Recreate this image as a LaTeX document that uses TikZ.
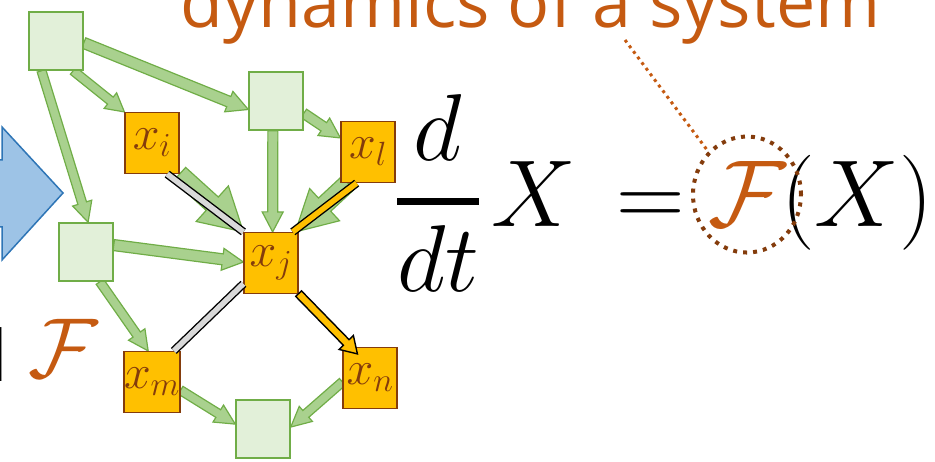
\RequirePackage{fix-cm}
\documentclass[tikz,border=0pt]{standalone}
\usepackage{amsmath}
\usepackage{fontspec}
\newfontfamily\sansfont{Open Sans}
\usetikzlibrary{calc,shapes.geometric}
\definecolor{boxGreen}{HTML}{E2F0D9}
\definecolor{lineGreen}{HTML}{70AD47}
\definecolor{arrowGreen}{HTML}{A9D18E}
\definecolor{boxOrange}{HTML}{FFC000}
\definecolor{darkBrown}{HTML}{843C0C}
\definecolor{rust}{HTML}{C55A11}
\definecolor{blueFill}{HTML}{9DC3E6}
\definecolor{blueLine}{HTML}{2E75B6}
\definecolor{barGrey}{HTML}{D9D9D9}
\pgfdeclarelayer{background}
\pgfsetlayers{background,main}
% block arrow: [style]{from}{to}{shaft half width}{head half width}{head length}
\newcommand{\blockArrow}[6][greenArrow]{%
    \coordinate (ba) at ($(#3)!#6!(#2)$);
    \filldraw[#1] ($(#2)!#4!90:(#3)$) -- ($(ba)!#4!90:(#3)$) -- ($(ba)!#5!90:(#3)$) -- (#3)
        -- ($(ba)!#5!-90:(#3)$) -- ($(ba)!#4!-90:(#3)$) -- ($(#2)!#4!-90:(#3)$) -- cycle;}

\begin{document}
\begin{tikzpicture}[x=1pt, y=-1pt,
        greenBox/.style={draw=lineGreen, fill=boxGreen, line width=1.5pt, minimum width=54pt, minimum height=58pt, inner sep=0pt},
        orangeBox/.style={draw=darkBrown, fill=boxOrange, line width=1.2pt, minimum width=54pt, minimum height=61pt, inner sep=0pt, text=darkBrown, font=\fontsize{48}{48}\selectfont},
        greenArrow/.style={draw=lineGreen, fill=arrowGreen, line width=1.2pt, line join=miter},
        orangeArrow/.style={draw=black, fill=boxOrange, line width=1.4pt, line join=miter},
        greyBar/.style={draw=black, line width=1.4pt, double=barGrey, double distance=5.5pt},
        orangeBar/.style={draw=black, line width=1.4pt, double=boxOrange, double distance=5.5pt},
        eqPart/.style={anchor=base, inner sep=0pt, font=\fontsize{95}{95}\selectfont},
        ring/.style={ellipse, draw=darkBrown, line width=4pt, dash pattern=on 4pt off 6pt, minimum width=108pt, minimum height=116pt, inner sep=0pt}
    ]
    \path[use as bounding box] (0,0) rectangle (935,462);
    \clip (0,0) rectangle (935,462);

    % Caption
    \node[anchor=base west, inner sep=0pt, text=rust, font=\sansfont\fontsize{70}{70}\selectfont] (title) at (180,28) {dynamics of a system};

    % Left side
    \draw[draw=blueLine, fill=blueFill, line width=1.5pt, line join=miter] (-20,160) -- (2,160) -- (2,127) -- (63,193) -- (2,260) -- (2,227) -- (-20,227) -- cycle;
    \node[anchor=base east, inner sep=0pt, font=\sansfont\fontsize{71}{71}\selectfont] (leftWord) at (8,382) {d};
    \node[anchor=base, inner sep=0pt, text=rust, font=\fontsize{85}{85}\selectfont] (leftF) at (63,378) {$\mathcal{F}$};

    % Network
    \node[greenBox] (gTopLeft) at (56,41) {};
    \node[greenBox] (gTopMid) at (276,101) {};
    \node[greenBox] (gLeft) at (86,252) {};
    \node[greenBox] (gBottom) at (263,429) {};
    \node[orangeBox] (xi) at (152,143) {$x_i$};
    \node[orangeBox] (xl) at (368,152) {$x_l$};
    \node[orangeBox] (xj) at (271,263) {$x_j$};
    \node[orangeBox] (xm) at (152,382) {$x_m$};
    \node[orangeBox] (xn) at (370,378) {$x_n$};

    \begin{pgfonlayer}{background}
        \blockArrow{gTopLeft.-4}{gTopMid.197}{5.5pt}{11pt}{21pt}
        \blockArrow{gTopLeft.-60}{xi.north west}{4.5pt}{10pt}{18pt}
        \blockArrow{gTopLeft.244}{gLeft.86}{4.5pt}{10pt}{20pt}
        \blockArrow{gTopMid.-24}{xl.153}{5pt}{10.5pt}{20pt}
        \blockArrow{gTopMid.264}{xj.87}{5pt}{10.5pt}{20pt}
        \blockArrow{xi.south east}{xj.north west}{9pt}{24pt}{42pt}
        \blockArrow{xl.237}{xj.52}{9pt}{22pt}{40pt}
        \blockArrow{gLeft.14}{xj.178}{5.5pt}{11pt}{21pt}
        \blockArrow{gLeft.-65}{xm.97}{4.5pt}{10pt}{20pt}
        \blockArrow{xm.-16}{gBottom.170}{4.5pt}{10pt}{20pt}
        \blockArrow{xn.188}{gBottom.4}{4.5pt}{10pt}{20pt}
    \end{pgfonlayer}

    % Highlighted links
    \draw[greyBar] (xi.-64) -- (xj.north west);
    \draw[orangeBar] (xl.250) -- (xj.55);
    \draw[greyBar] (xj.217) -- (xm.55);
    \coordinate (tipN) at ($(xn.north west)+(15,7)$);
    \blockArrow[orangeArrow]{xj.-48}{tipN}{4pt}{10pt}{16pt}

    % Equation
    \node[eqPart] (ddt) at (438,225) {$\displaystyle{d \above 7pt dt}$};
    \node[eqPart] (lhsX) at (534,227) {$X$};
    \node[eqPart] (eqSign) at (651,227) {$=$};
    \node[eqPart, text=rust] (calF) at (747,227) {$\mathcal{F}$};
    \node[eqPart] (argX) at (857,227) {$(X)$};
    \node[ring] (fRing) at (calF.center) {};
    \coordinate (calloutStart) at (625,40);
    \draw[rust, line width=3pt, dash pattern=on 3pt off 4pt] (calloutStart) -- (fRing.132);
\end{tikzpicture}
\end{document}
